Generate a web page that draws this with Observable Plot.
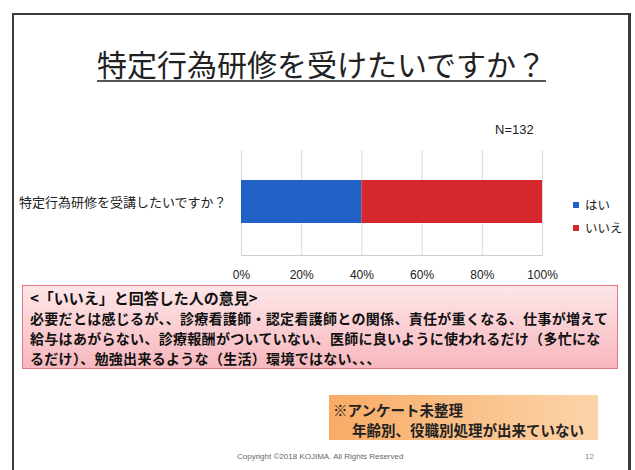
<!DOCTYPE html>
<html><head><meta charset="utf-8">
<script src="https://cdn.jsdelivr.net/npm/d3@7"></script>
<script src="https://cdn.jsdelivr.net/npm/@observablehq/plot@0.6"></script>
<style>
html,body{margin:0;padding:0;background:#fff;width:635px;height:470px;overflow:hidden;font-family:"Noto Sans CJK JP","Noto Sans",sans-serif;}
.abs{position:absolute;}
#frame{left:12px;top:13px;width:614px;height:500px;border:2px solid #3a3a3a;border-right-width:3px;}
#title{left:97px;top:48px;font-size:30px;line-height:30px;color:#222;padding-bottom:2px;border-bottom:2px solid #555;white-space:nowrap;}
#n{left:495px;top:122px;font-family:"Liberation Sans",Arial,sans-serif;font-size:13px;color:#222;}
#chart{left:0;top:120px;}
#legend{left:573px;top:193px;font-size:12.5px;color:#222;}
#legend .it{display:flex;align-items:center;height:23px;}
#legend .sw{width:6px;height:6px;margin-right:6px;}
#pink{left:22px;top:285px;width:594px;height:82px;border:1px solid #e07984;background:linear-gradient(to bottom,#fde6e8,#f7b7be);box-sizing:content-box;}
#pink .t{position:absolute;left:7px;top:2px;font-weight:bold;font-size:14px;line-height:20px;color:#111;white-space:nowrap;letter-spacing:0.3px;}
#pink .h{font-size:15px;letter-spacing:0;}
#orange{left:329px;top:395px;width:269px;height:45px;background:linear-gradient(to right,#f8ab66,#fcd4a9);}
#orange .a{position:absolute;left:4px;top:4px;font-size:14.5px;font-weight:bold;color:#222;white-space:nowrap;}
#orange .b{position:absolute;left:23px;top:24px;font-size:14.5px;font-weight:bold;color:#222;white-space:nowrap;}
#copy{left:237px;top:452px;font-family:"Liberation Sans",Arial,sans-serif;font-size:8px;color:#666;}
#page{left:585px;top:452px;font-family:"Liberation Sans",Arial,sans-serif;font-size:8px;color:#888;}
</style></head>
<body>
<div id="frame" class="abs"></div>
<div id="title" class="abs"></div>
<div id="n" class="abs"></div>
<div id="chart" class="abs"></div>
<div id="legend" class="abs"></div>
<div id="pink" class="abs"><div class="t"></div></div>
<div id="orange" class="abs"><div class="a"></div><div class="b"></div></div>
<div id="copy" class="abs"></div>
<div id="page" class="abs"></div>
<script>
const titleText = "特定行為研修を受けたいですか？";
const sampleLabel = "N=132";
const categories = ["特定行為研修を受講したいですか？"];
const seriesNames = ["はい", "いいえ"];
const seriesValues = [0.40, 0.60];
const seriesColors = ["#2161c6", "#d5282f"];
const xTicks = [0, 0.2, 0.4, 0.6, 0.8, 1.0];
const xTickLabels = ["0%", "20%", "40%", "60%", "80%", "100%"];
const opinionHeading = "<「いいえ」と回答した人の意見>";
const opinionLines = [
  "必要だとは感じるが、、診療看護師・認定看護師との関係、責任が重くなる、仕事が増えて",
  "給与はあがらない、診療報酬がついていない、医師に良いように使われるだけ（多忙にな",
  "るだけ）、勉強出来るような（生活）環境ではない、、、"
];
const noteLines = ["※アンケート未整理", "年齢別、役職別処理が出来ていない"];
const copyrightText = "Copyright ©2018 KOJIMA. All Rights Reserved";
const pageNumber = "12";

document.getElementById("title").textContent = titleText;
document.getElementById("n").textContent = sampleLabel;

const rows = seriesNames.map((s, i) => ({category: categories[0], answer: s, value: seriesValues[i]}));

const chart = Plot.plot({
  width: 635, height: 170,
  marginLeft: 241, marginRight: 93, marginTop: 30, marginBottom: 35,
  style: {fontFamily: "'Noto Sans CJK JP', sans-serif", background: "transparent", color: "#222"},
  x: {domain: [0, 1]},
  y: {domain: categories, padding: 0},
  color: {domain: seriesNames, range: seriesColors},
  marks: [
    Plot.gridX(xTicks, {stroke: "#d9d9d9", strokeOpacity: 1}),
    Plot.frame({anchor: "bottom", stroke: "#cccccc"}),
    Plot.barX(rows, Plot.stackX({x: "value", y: "category", fill: "answer", insetTop: 30, insetBottom: 32})),
    Plot.axisX(xTicks, {tickSize: 0, tickPadding: 15, tickFormat: (d) => xTickLabels[xTicks.indexOf(d)], fontSize: 12, fontFamily: "'Liberation Sans', Arial, sans-serif", label: null}),
    Plot.axisY({tickSize: 0, tickPadding: 15, fontSize: 13, label: null})
  ]
});
document.getElementById("chart").appendChild(chart);

const legend = document.getElementById("legend");
seriesNames.forEach((s, i) => {
  const it = document.createElement("div"); it.className = "it";
  const sw = document.createElement("span"); sw.className = "sw"; sw.style.background = seriesColors[i];
  const tx = document.createElement("span"); tx.textContent = s;
  it.appendChild(sw); it.appendChild(tx); legend.appendChild(it);
});

const pt = document.querySelector("#pink .t");
const h = document.createElement("div"); h.className = "h"; h.textContent = opinionHeading; pt.appendChild(h);
opinionLines.forEach(l => { const d = document.createElement("div"); d.textContent = l; pt.appendChild(d); });

document.querySelector("#orange .a").textContent = noteLines[0];
document.querySelector("#orange .b").textContent = noteLines[1];
document.getElementById("copy").textContent = copyrightText;
document.getElementById("page").textContent = pageNumber;
</script>
</body></html>
